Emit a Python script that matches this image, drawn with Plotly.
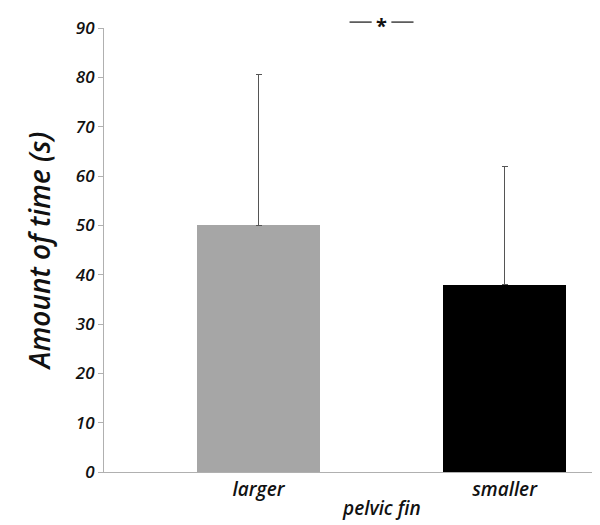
import plotly.graph_objects as go

categories = ["larger", "smaller"]
means = [50, 38]
err_plus = [30.5, 24]
bar_colors = ["#a6a6a6", "#000000"]
y_ticks = [0, 10, 20, 30, 40, 50, 60, 70, 80, 90]
x_pos = [0, 1]

FONT = "Open Sans"
XR = [-0.628, 1.388]
YR = [0, 90]


def px(xd):
    return (xd - XR[0]) / (XR[1] - XR[0])


def py(yd):
    return (yd - YR[0]) / (YR[1] - YR[0])


fig = go.Figure()
fig.add_trace(go.Bar(
    x=x_pos, y=means, width=0.5,
    marker=dict(color=bar_colors, line=dict(width=0)),
    error_y=dict(type="data", symmetric=False, array=err_plus, arrayminus=[0, 0],
                 color="#555555", thickness=1, width=3),
    showlegend=False,
))

fig.update_layout(
    width=600, height=525,
    margin=dict(l=96, r=8, t=20, b=61),
    plot_bgcolor="white", paper_bgcolor="white",
    bargap=0,
    xaxis=dict(range=XR, tickvals=x_pos, ticktext=categories,
               showline=True, linecolor="#b0b0b0", linewidth=1, ticks="",
               showgrid=False, zeroline=False,
               tickfont=dict(family=FONT, size=19, color="#111111", style="italic", weight=600)),
    yaxis=dict(range=YR, tickvals=y_ticks, showline=True, linecolor="#b0b0b0", linewidth=1,
               ticks="outside", ticklen=5, tickcolor="#b0b0b0", showgrid=False, zeroline=False,
               tickfont=dict(family=FONT, size=17, color="#111111", style="italic", weight=600),
               title=dict(text="Amount of time (s)", standoff=16,
                          font=dict(family=FONT, size=28, color="#111111", style="italic", weight=600))),
)

fig.add_annotation(text="pelvic fin", xref="paper", x=px(0.5), yref="paper", y=0, yshift=-36,
                   showarrow=False, yanchor="middle",
                   font=dict(family=FONT, size=19, color="#111111", style="italic", weight=600))

# significance marker
sig_y = py(91.2)
fig.add_shape(type="line", xref="paper", x0=px(0.37), x1=px(0.46), yref="paper", y0=sig_y, y1=sig_y,
              line=dict(color="#111111", width=1.2))
fig.add_shape(type="line", xref="paper", x0=px(0.54), x1=px(0.63), yref="paper", y0=sig_y, y1=sig_y,
              line=dict(color="#111111", width=1.2))
fig.add_annotation(text="*", xref="paper", x=px(0.5), yref="paper", y=sig_y, showarrow=False,
                   yanchor="middle", yshift=-3,
                   font=dict(family=FONT, size=20, color="#111111", weight="bold"))

fig.write_html("out.html")
